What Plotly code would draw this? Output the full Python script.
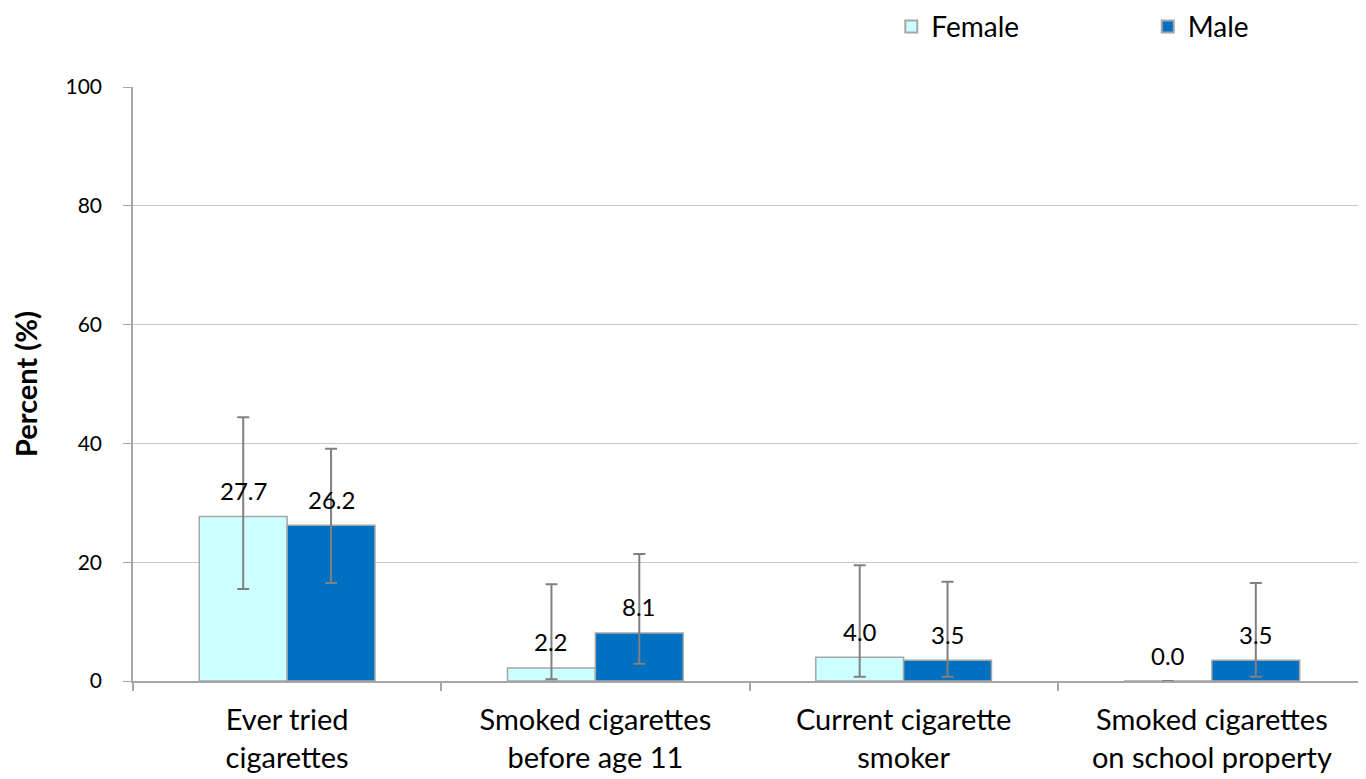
import plotly.graph_objects as go

categories = ["Ever tried<br>cigarettes", "Smoked cigarettes<br>before age 11",
              "Current cigarette<br>smoker", "Smoked cigarettes<br>on school property"]
female = [27.7, 2.2, 4.0, 0.0]
male = [26.2, 8.1, 3.5, 3.5]
female_upper = [44.4, 16.3, 19.5, 0.0]
female_lower = [15.5, 0.3, 0.7, 0.0]
male_upper = [39.1, 21.4, 16.7, 16.5]
male_lower = [16.5, 2.9, 0.7, 0.7]

FONT = "Lato"
fig = go.Figure()

def add(name, vals, up, lo, color, legend):
    fig.add_trace(go.Bar(
        name=name, x=categories, y=vals, legend=legend,
        marker=dict(color=color, line=dict(color="#a6a6a6", width=1.5)),
        error_y=dict(type="data", symmetric=False,
                     array=[u - v for u, v in zip(up, vals)],
                     arrayminus=[v - l for v, l in zip(vals, lo)],
                     color="#808080", thickness=2, width=6),
    ))

add("Female", female, female_upper, female_lower, "#ccffff", "legend")
add("Male", male, male_upper, male_lower, "#0070c0", "legend2")

for vals, shift in ((female, -44), (male, 44)):
    for c, v in zip(categories, vals):
        fig.add_annotation(x=c, y=v, text=f"{v:.1f}", showarrow=False,
                           xshift=shift, yshift=26,
                           font=dict(family=FONT, size=24, color="black"))

leg_common = dict(orientation="h", yanchor="middle", yref="container", y=0.976,
                  xanchor="left", xref="paper",
                  font=dict(family=FONT, size=28, color="black"),
                  bgcolor="rgba(0,0,0,0)", itemsizing="constant")

fig.update_layout(
    width=1366, height=779,
    margin=dict(l=125, r=8, t=79, b=106),
    paper_bgcolor="white", plot_bgcolor="white",
    barmode="group", bargap=0.43, bargroupgap=0,
    font=dict(family=FONT, color="black"),
    showlegend=True,
    legend=dict(x=0.615, **leg_common),
    legend2=dict(x=0.823, **leg_common),
    xaxis=dict(tickfont=dict(family=FONT, size=29), showline=True, automargin=False,
               linecolor="#a6a6a6", linewidth=2, ticks="outside",
               tickson="boundaries", ticklen=8, tickcolor="#a6a6a6",
               tickwidth=1.5, ticklabelstandoff=12),
    yaxis=dict(range=[0, 100], dtick=20, tickfont=dict(family=FONT, size=21),
               showline=True, linecolor="#a6a6a6", linewidth=1.5, automargin=False,
               ticks="outside", ticklen=8, tickcolor="#a6a6a6",
               gridcolor="#c8c8c8", gridwidth=1, zeroline=False,
               ticklabelstandoff=17,
               title=dict(text="<b>Percent (%)</b>", font=dict(family=FONT, size=29),
                          standoff=34)),
)

fig.write_html("out.html")
